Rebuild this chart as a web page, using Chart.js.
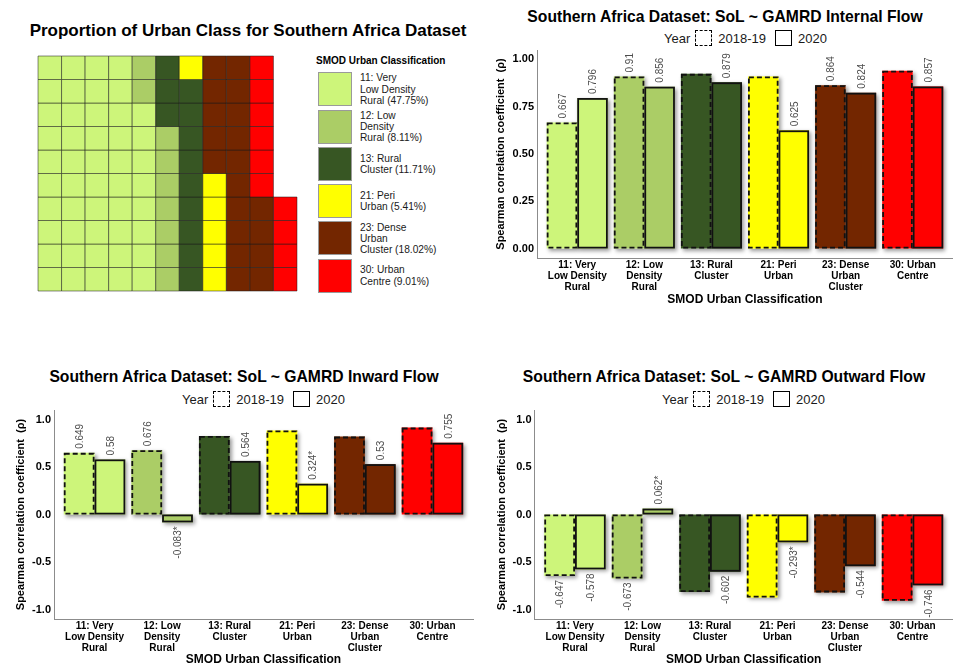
<!DOCTYPE html>
<html>
<head>
<meta charset="utf-8">
<script src="https://cdn.jsdelivr.net/npm/chart.js@4.4.1/dist/chart.umd.min.js"></script>
<style>
  body { margin: 0; background: #fff; font-family: "Liberation Sans", Arial, sans-serif; }
  #page { position: relative; width: 953px; height: 668px; overflow: hidden; background: #fff; }
  canvas { position: absolute; }
  .title { position: absolute; font-weight: bold; font-size: 15.7px; color: #000; white-space: nowrap; transform: translate(-50%, -50%); }
  .title.big { font-size: 17px; }
  .years { position: absolute; display: flex; align-items: center; font-size: 13px; color: #1a1a1a; height: 18px; transform: translateY(-50%); white-space: nowrap; }
  .key { width: 17px; height: 16px; box-sizing: border-box; border: 1.6px solid #000; }
  .key.dash { border-style: dashed; }
  #wlegend { position: absolute; left: 316px; top: 53px; }
  #wlegend .lt { font-weight: bold; font-size: 10px; color: #000; height: 16px; line-height: 16px; white-space: nowrap; }
  #wlegend .row { display: flex; align-items: center; margin-top: 3.3px; }
  #wlegend .row:first-of-type { margin-top: 3px; }
  #wlegend .sw { width: 34px; height: 34px; box-sizing: border-box; border: 1px solid #9a9a9a; margin-left: 2px; }
  #wlegend .tx { margin-left: 8px; font-size: 10.2px; line-height: 11.3px; color: #1a1a1a; white-space: nowrap; }
</style>
</head>
<body>
<div id="page">
  <div class="title big" style="left:248px; top:31px;">Proportion of Urban Class for Southern Africa Dataset</div>
  <canvas id="waffle" width="263" height="239" style="left:36px; top:54px; width:263px; height:239px;"></canvas>
  <div id="wlegend"><div class="lt">SMOD Urban Classification</div></div>

  <div class="title" style="left:725px; top:17px;">Southern Africa Dataset: SoL ~ GAMRD Internal Flow</div>
  <div class="years" style="left:664px; top:38px;"><span>Year</span><div class="key dash" style="margin-left:5px"></div><span style="margin-left:6px">2018-19</span><div class="key" style="margin-left:9px"></div><span style="margin-left:6px">2020</span></div>
  <canvas id="internal" width="473" height="265" style="left:480px; top:45px; width:473px; height:265px;"></canvas>

  <div class="title" style="left:244px; top:377px;">Southern Africa Dataset: SoL ~ GAMRD Inward Flow</div>
  <div class="years" style="left:182px; top:399px;"><span>Year</span><div class="key dash" style="margin-left:5px"></div><span style="margin-left:6px">2018-19</span><div class="key" style="margin-left:9px"></div><span style="margin-left:6px">2020</span></div>
  <canvas id="inward" width="478" height="263" style="left:0px; top:405px; width:478px; height:263px;"></canvas>

  <div class="title" style="left:724px; top:377px;">Southern Africa Dataset: SoL ~ GAMRD Outward Flow</div>
  <div class="years" style="left:662px; top:399px;"><span>Year</span><div class="key dash" style="margin-left:5px"></div><span style="margin-left:6px">2018-19</span><div class="key" style="margin-left:9px"></div><span style="margin-left:6px">2020</span></div>
  <canvas id="outward" width="475" height="263" style="left:478px; top:405px; width:475px; height:263px;"></canvas>
</div>

<script>
// SMOD urban classes (names split over lines as printed)
const classNames = [
  ['11: Very', 'Low Density', 'Rural'],
  ['12: Low', 'Density', 'Rural'],
  ['13: Rural', 'Cluster'],
  ['21: Peri', 'Urban'],
  ['23: Dense', 'Urban', 'Cluster'],
  ['30: Urban', 'Centre']
];
const classColors = ['#CDF57A', '#ABCD66', '#375623', '#FFFF00', '#732600', '#FF0000'];
const classShares = ['47.75%', '8.11%', '11.71%', '5.41%', '18.02%', '9.01%'];

// waffle tiles per class, filled column by column, bottom to top
const waffleCounts = [48, 9, 12, 6, 19, 10];
const waffleRows = 10;

// Spearman's rho, SoL vs GAMRD flows
const internal2018 = [0.667, 0.91, 0.924, 0.91, 0.864, 0.94];
const internal2020 = [0.796, 0.856, 0.879, 0.625, 0.824, 0.857];
const internalShown2018 = [1, 1, 0, 0, 1, 0];
const internalShown2020 = [1, 1, 1, 1, 1, 1];
const internalStar2018 = [0, 0, 0, 0, 0, 0];
const internalStar2020 = [0, 0, 0, 0, 0, 0];

const inward2018 = [0.649, 0.676, 0.827, 0.884, 0.82, 0.915];
const inward2020 = [0.58, -0.083, 0.564, 0.324, 0.53, 0.755];
const inwardShown2018 = [1, 1, 0, 0, 0, 0];
const inwardShown2020 = [1, 1, 1, 1, 1, 1];
const inwardStar2018 = [0, 0, 0, 0, 0, 0];
const inwardStar2020 = [0, 1, 0, 1, 0, 0];

const outward2018 = [-0.647, -0.673, -0.816, -0.873, -0.82, -0.908];
const outward2020 = [-0.578, 0.062, -0.602, -0.293, -0.544, -0.746];
const outwardShown2018 = [1, 1, 0, 0, 0, 0];
const outwardShown2020 = [1, 1, 1, 1, 1, 1];
const outwardStar2018 = [0, 0, 0, 0, 0, 0];
const outwardStar2020 = [0, 1, 0, 1, 0, 0];

const yTitle = 'Spearman correlation coefficient  (\u03C1)';
const xTitle = 'SMOD Urban Classification';

Chart.defaults.font.family = '"Liberation Sans", Arial, sans-serif';
Chart.defaults.color = '#000';

// ---------- waffle legend ----------
const wl = document.getElementById('wlegend');
classNames.forEach((lines, i) => {
  const row = document.createElement('div');
  row.className = 'row';
  const sw = document.createElement('div');
  sw.className = 'sw';
  sw.style.background = classColors[i];
  const tx = document.createElement('div');
  tx.className = 'tx';
  const txt = lines.slice();
  txt[txt.length - 1] += ' (' + classShares[i] + ')';
  tx.innerHTML = txt.join('<br>');
  row.appendChild(sw);
  row.appendChild(tx);
  wl.appendChild(row);
});

// ---------- waffle ----------
const tiles = [];
const tileColors = [];
{
  let k = 0;
  waffleCounts.forEach((n, ci) => {
    for (let j = 0; j < n; j++, k++) {
      tiles.push({ x: Math.floor(k / waffleRows) + 0.5, y: (k % waffleRows) + 0.5 });
      tileColors.push(classColors[ci]);
    }
  });
}
const waffleCols = Math.ceil(tiles.length / waffleRows);
new Chart(document.getElementById('waffle'), {
  type: 'scatter',
  data: {
    datasets: [{
      data: tiles,
      backgroundColor: tileColors,
      borderColor: 'rgba(25,25,25,0.5)',
      borderWidth: 1,
      pointStyle: 'rect',
      pointRadius: 23.5 / Math.SQRT2,
      clip: false
    }]
  },
  options: {
    responsive: false, animation: false, events: [],
    layout: { padding: 2, autoPadding: false },
    plugins: { legend: { display: false }, tooltip: { enabled: false } },
    scales: {
      x: { type: 'linear', min: 0, max: waffleCols, display: false },
      y: { type: 'linear', min: 0, max: waffleRows, display: false }
    }
  }
});

// ---------- bar panels ----------
function barRects(chart, di) {
  return chart.getDatasetMeta(di).data.map(el => {
    const p = el.getProps(['x', 'y', 'base', 'width'], true);
    return { l: p.x - p.width / 2, r: p.x + p.width / 2, t: Math.min(p.y, p.base), b: Math.max(p.y, p.base), x: p.x };
  });
}

// drop shadow, dashed / solid outlines and rotated value labels
const barDecor = {
  id: 'barDecor',
  beforeDatasetsDraw(chart) {
    const ctx = chart.ctx;
    ctx.save();
    ctx.shadowColor = 'rgba(0,0,0,0.4)';
    ctx.shadowBlur = 4;
    ctx.shadowOffsetX = 2;
    ctx.shadowOffsetY = 2;
    ctx.fillStyle = '#fff';
    [0, 1].forEach(di => barRects(chart, di).forEach(r => ctx.fillRect(r.l, r.t, r.r - r.l, r.b - r.t)));
    ctx.restore();
  },
  afterDatasetsDraw(chart) {
    const ctx = chart.ctx;
    const lw = 1.8;
    ctx.save();
    ctx.strokeStyle = '#111';
    ctx.lineWidth = lw;
    ctx.setLineDash([5, 3]);
    barRects(chart, 0).forEach(r => ctx.strokeRect(r.l + lw / 2, r.t + lw / 2, r.r - r.l - lw, r.b - r.t - lw));
    ctx.setLineDash([]);
    barRects(chart, 1).forEach(r => ctx.strokeRect(r.l + lw / 2, r.t + lw / 2, r.r - r.l - lw, r.b - r.t - lw));

    ctx.fillStyle = '#4d4d4d';
    ctx.font = '10px "Liberation Sans", Arial, sans-serif';
    ctx.textBaseline = 'middle';
    [0, 1].forEach(di => {
      const ds = chart.data.datasets[di];
      barRects(chart, di).forEach((r, i) => {
        if (!ds.shown[i]) return;
        const v = ds.data[i].y;
        const text = String(v) + (ds.star[i] ? '*' : '');
        ctx.save();
        if (v >= 0) {
          ctx.translate(r.x + 1, r.t - 4);
          ctx.rotate(-Math.PI / 2);
          ctx.textAlign = 'left';
        } else {
          ctx.translate(r.x + 1, r.b + 4);
          ctx.rotate(-Math.PI / 2);
          ctx.textAlign = 'right';
        }
        ctx.fillText(text, 0, 0);
        ctx.restore();
      });
    });
    ctx.restore();
  }
};

function flowChart(id, v2018, v2020, shown2018, shown2020, star2018, star2020, g) {
  const mk = (vals, shown, star, label) => ({
    label,
    data: vals.map((v, i) => ({ x: i, y: v })),
    shown, star,
    backgroundColor: classColors,
    borderWidth: 0,
    categoryPercentage: 0.91,
    barPercentage: 1
  });
  return new Chart(document.getElementById(id), {
    type: 'bar',
    data: { datasets: [mk(v2018, shown2018, star2018, '2018-19'), mk(v2020, shown2020, star2020, '2020')] },
    plugins: [barDecor],
    options: {
      responsive: false, animation: false, events: [],
      layout: { padding: { top: 5, right: g.padRight, left: 0, bottom: 0 } },
      plugins: { legend: { display: false }, tooltip: { enabled: false } },
      scales: {
        x: {
          type: 'linear', min: -0.6, max: classNames.length - 0.4, offset: false,
          afterBuildTicks: s => { s.ticks = classNames.map((_, i) => ({ value: i })); },
          afterFit: s => { s.height = g.xAxisH; s.paddingLeft = 0; s.paddingRight = 0; },
          ticks: {
            autoSkip: false, maxRotation: 0, minRotation: 0, padding: 2,
            callback: v => classNames[v],
            font: { weight: 'bold', size: 10, lineHeight: 1.07 }, color: '#000'
          },
          grid: { display: false, drawTicks: false, offset: false },
          border: { display: true, color: '#8c8c8c', width: 1 },
          title: { display: true, text: xTitle, font: { weight: 'bold', size: 12 }, color: '#000', padding: { top: 0, bottom: g.xTitlePad } }
        },
        y: {
          type: 'linear', min: g.yMin, max: g.yMax,
          afterBuildTicks: s => { s.ticks = g.yTicks.map(v => ({ value: v })); },
          afterFit: s => { s.width = g.yAxisW; s.paddingTop = 0; s.paddingBottom = 0; },
          ticks: {
            padding: 3,
            callback: v => v.toFixed(g.dec),
            font: { weight: 'bold', size: 11 }, color: '#000'
          },
          grid: { display: false, drawTicks: false },
          border: { display: true, color: '#8c8c8c', width: 1 },
          title: { display: true, text: yTitle, font: { weight: 'bold', size: 11 }, color: '#000', padding: { top: g.yTitlePad, bottom: 0 } }
        }
      }
    }
  });
}

const ticksTop = [0, 0.25, 0.5, 0.75, 1];
const ticksBottom = [-1, -0.5, 0, 0.5, 1];

flowChart('internal', internal2018, internal2020, internalShown2018, internalShown2020, internalStar2018, internalStar2020,
  { yMin: -0.05, yMax: 1.05, yTicks: ticksTop, dec: 2, yAxisW: 57, xAxisH: 52, padRight: 0, yTitlePad: 14.4, xTitlePad: 3.5 });
flowChart('inward', inward2018, inward2020, inwardShown2018, inwardShown2020, inwardStar2018, inwardStar2020,
  { yMin: -1.1, yMax: 1.1, yTicks: ticksBottom, dec: 1, yAxisW: 54, xAxisH: 49, padRight: 5, yTitlePad: 14.1, xTitlePad: 1 });
flowChart('outward', outward2018, outward2020, outwardShown2018, outwardShown2020, outwardStar2018, outwardStar2020,
  { yMin: -1.1, yMax: 1.1, yTicks: ticksBottom, dec: 1, yAxisW: 56.5, xAxisH: 49, padRight: 0, yTitlePad: 16.9, xTitlePad: 1 });
</script>
</body>
</html>
